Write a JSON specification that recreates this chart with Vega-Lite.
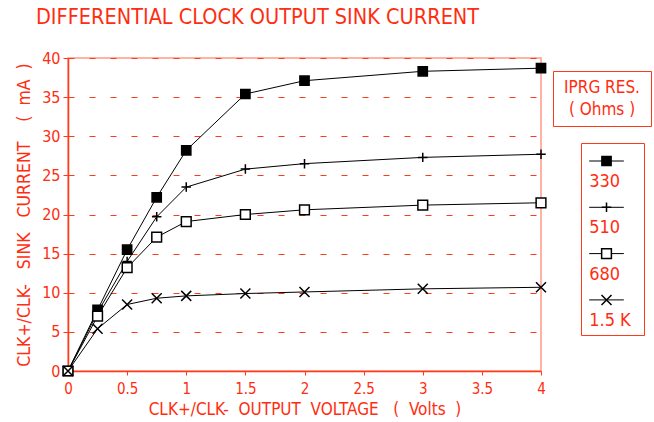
{
  "$schema": "https://vega.github.io/schema/vega-lite/v6.json",
  "background": "white",
  "padding": {"left": 14, "top": 6, "right": 0, "bottom": 0},
  "title": {"text": "DIFFERENTIAL CLOCK OUTPUT SINK CURRENT", "anchor": "start", "font": "DejaVu Sans Condensed, Roboto", "fontSize": 21.5, "fontWeight": "normal", "color": "#ff2d0f", "offset": 21, "dx": 21},
  "config": {"view": {"stroke": null}, "font": "DejaVu Sans Condensed, Roboto"},
  "datasets": {
    "curves": [
      {"v": 0, "i": 0, "s": "330"}, {"v": 0.25, "i": 7.8, "s": "330"}, {"v": 0.5, "i": 15.5, "s": "330"}, {"v": 0.75, "i": 22.2, "s": "330"}, {"v": 1, "i": 28.2, "s": "330"}, {"v": 1.5, "i": 35.4, "s": "330"}, {"v": 2, "i": 37.1, "s": "330"}, {"v": 3, "i": 38.3, "s": "330"}, {"v": 4, "i": 38.7, "s": "330"},
      {"v": 0, "i": 0, "s": "510"}, {"v": 0.25, "i": 7.5, "s": "510"}, {"v": 0.5, "i": 14.0, "s": "510"}, {"v": 0.75, "i": 19.7, "s": "510"}, {"v": 1, "i": 23.5, "s": "510"}, {"v": 1.5, "i": 25.8, "s": "510"}, {"v": 2, "i": 26.5, "s": "510"}, {"v": 3, "i": 27.3, "s": "510"}, {"v": 4, "i": 27.7, "s": "510"},
      {"v": 0, "i": 0, "s": "680"}, {"v": 0.25, "i": 7.0, "s": "680"}, {"v": 0.5, "i": 13.2, "s": "680"}, {"v": 0.75, "i": 17.1, "s": "680"}, {"v": 1, "i": 19.1, "s": "680"}, {"v": 1.5, "i": 20.0, "s": "680"}, {"v": 2, "i": 20.6, "s": "680"}, {"v": 3, "i": 21.2, "s": "680"}, {"v": 4, "i": 21.5, "s": "680"},
      {"v": 0, "i": 0, "s": "1.5 K"}, {"v": 0.25, "i": 5.4, "s": "1.5 K"}, {"v": 0.5, "i": 8.5, "s": "1.5 K"}, {"v": 0.75, "i": 9.3, "s": "1.5 K"}, {"v": 1, "i": 9.6, "s": "1.5 K"}, {"v": 1.5, "i": 9.9, "s": "1.5 K"}, {"v": 2, "i": 10.1, "s": "1.5 K"}, {"v": 3, "i": 10.5, "s": "1.5 K"}, {"v": 4, "i": 10.7, "s": "1.5 K"}
    ],
    "keys": [
      {"s": "330", "k": 0}, {"s": "510", "k": 1}, {"s": "680", "k": 2}, {"s": "1.5 K", "k": 3}
    ],
    "head": [
      {"t": "IPRG RES.", "r": 0}, {"t": "( Ohms )", "r": 1}
    ]
  },
  "hconcat": [
    {
      "width": 473,
      "height": 313,
      "data": {"name": "curves"},
      "view": {"stroke": "#ff9a88", "strokeWidth": 1.5},
      "encoding": {
        "x": {"field": "v", "type": "quantitative", "scale": {"domain": [0, 4], "nice": false},
          "axis": {"values": [0, 0.5, 1, 1.5, 2, 2.5, 3, 3.5, 4], "format": "~g", "grid": false, "domainColor": "#ff3a1a", "domainWidth": 1.5, "tickColor": "#ff3a1a", "tickSize": 4, "labelColor": "#ff2d0f", "labelFontSize": 15, "labelPadding": 6, "labelFlush": false,
            "title": "CLK+/CLK-\u00a0 OUTPUT\u00a0 VOLTAGE\u00a0\u00a0 (\u00a0 Volts\u00a0 )", "titleColor": "#ff2d0f", "titleFontSize": 17, "titleFontWeight": "normal", "titlePadding": 5}},
        "y": {"field": "i", "type": "quantitative", "scale": {"domain": [0, 40], "nice": false},
          "axis": {"values": [0, 5, 10, 15, 20, 25, 30, 35, 40], "grid": true, "gridColor": "#ff3a1a", "gridDash": [6, 15], "gridWidth": 1, "domainColor": "#ff3a1a", "domainWidth": 1.5, "tickColor": "#ff3a1a", "tickSize": 5, "labelColor": "#ff2d0f", "labelFontSize": 16, "labelPadding": 3,
            "title": "CLK+/CLK-\u00a0\u00a0 SINK\u00a0\u00a0 CURRENT\u00a0\u00a0\u00a0 (\u00a0 mA\u00a0 )", "titleColor": "#ff2d0f", "titleFontSize": 17.5, "titleFontWeight": "normal", "titlePadding": 8}}
      },
      "layer": [
        {"mark": {"type": "line", "color": "black", "strokeWidth": 1}, "encoding": {"detail": {"field": "s"}}},
        {"mark": {"type": "point", "opacity": 1, "strokeWidth": 1.5},
          "encoding": {
            "shape": {"field": "s", "type": "nominal", "scale": {"domain": ["330", "510", "680", "1.5 K"], "range": ["square", "M-1,0H1M0,-1V1", "square", "M-1,-1L1,1M-1,1L1,-1"]}, "legend": null},
            "size": {"field": "s", "type": "nominal", "scale": {"domain": ["330", "510", "680", "1.5 K"], "range": [85, 100, 80, 90]}, "legend": null},
            "fill": {"field": "s", "type": "nominal", "scale": {"domain": ["330", "510", "680", "1.5 K"], "range": ["black", "transparent", "white", "transparent"]}, "legend": null},
            "stroke": {"value": "black"}
          }}
      ]
    },
    {
      "spacing": 11,
      "vconcat": [
        {"width": 1, "height": 1, "data": {"values": []}, "mark": {"type": "point", "opacity": 0}},
        {
          "spacing": 15,
          "vconcat": [
            {
              "width": 98, "height": 55,
              "view": {"stroke": "#ff3a1a", "strokeWidth": 1},
              "data": {"name": "head"},
              "mark": {"type": "text", "color": "#ff2d0f", "fontSize": 17, "align": "center"},
              "encoding": {
                "x": {"datum": 0.5, "type": "quantitative", "scale": {"domain": [0, 1]}, "axis": null},
                "y": {"field": "r", "type": "quantitative", "scale": {"domain": [-0.75, 1.75], "reverse": true}, "axis": null},
                "text": {"field": "t"}
              }
            },
            {
              "spacing": 26,
              "hconcat": [
                {"width": 1, "height": 1, "data": {"values": []}, "mark": {"type": "point", "opacity": 0}},
                {
                  "width": 63, "height": 192,
                  "view": {"stroke": "#ff3a1a", "strokeWidth": 1},
                  "data": {"name": "keys"},
                  "encoding": {
                    "y": {"field": "k", "type": "quantitative", "scale": {"domain": [-0.389, 3.758], "reverse": true, "nice": false, "zero": false}, "axis": null}
                  },
                  "layer": [
                    {"mark": {"type": "rule", "color": "black", "strokeWidth": 1},
                      "encoding": {"x": {"datum": 0.13, "type": "quantitative", "scale": {"domain": [0, 1]}, "axis": null}, "x2": {"datum": 0.68}}},
                    {"mark": {"type": "point", "opacity": 1, "strokeWidth": 1.5, "stroke": "black"},
                      "encoding": {
                        "x": {"datum": 0.405, "type": "quantitative"},
                        "shape": {"field": "s", "type": "nominal", "scale": {"domain": ["330", "510", "680", "1.5 K"], "range": ["square", "M-1,0H1M0,-1V1", "square", "M-1,-1L1,1M-1,1L1,-1"]}, "legend": null},
                        "size": {"field": "s", "type": "nominal", "scale": {"domain": ["330", "510", "680", "1.5 K"], "range": [85, 100, 80, 90]}, "legend": null},
                        "fill": {"field": "s", "type": "nominal", "scale": {"domain": ["330", "510", "680", "1.5 K"], "range": ["black", "transparent", "white", "transparent"]}, "legend": null}
                      }},
                    {"mark": {"type": "text", "color": "#ff2d0f", "fontSize": 18, "align": "left", "baseline": "middle", "yOffset": 21},
                      "encoding": {"x": {"datum": 0.13, "type": "quantitative"}, "text": {"field": "s"}}}
                  ]
                }
              ]
            }
          ]
        }
      ]
    }
  ],
  "spacing": 2,
  "resolve": {"scale": {"shape": "independent", "fill": "independent", "size": "independent"}}
}
